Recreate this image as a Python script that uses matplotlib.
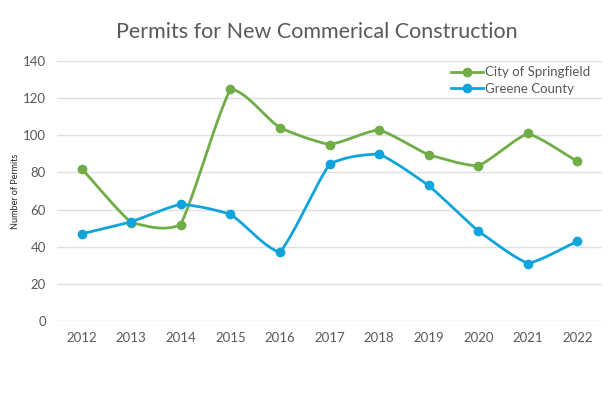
import matplotlib
matplotlib.use("Agg")
import matplotlib.pyplot as plt
import numpy as np

# data
years = [2012, 2013, 2014, 2015, 2016, 2017, 2018, 2019, 2020, 2021, 2022]
springfield = [82, 53, 52, 125, 104, 95, 103, 89.5, 83.5, 101, 86]
greene = [47, 53.5, 63, 57.5, 37, 84.5, 90, 73, 48.5, 31, 43]

green = "#70ad47"
blue = "#10a4dc"
text_col = "#595959"

plt.rcParams["font.family"] = ["Lato", "DejaVu Sans"]


def smooth(x, y, amount=0.35, n=30):
    # Catmull-Rom curve blended with the straight segments (drawing only)
    x = np.asarray(x, float)
    y = np.asarray(y, float)
    m = np.zeros_like(y)
    m[1:-1] = (y[2:] - y[:-2]) / (x[2:] - x[:-2])
    m[0] = (y[1] - y[0]) / (x[1] - x[0])
    m[-1] = (y[-1] - y[-2]) / (x[-1] - x[-2])
    xs, ys = [], []
    for i in range(len(x) - 1):
        h = x[i + 1] - x[i]
        t = np.linspace(0, 1, n)
        h00 = 2 * t**3 - 3 * t**2 + 1
        h10 = t**3 - 2 * t**2 + t
        h01 = -2 * t**3 + 3 * t**2
        h11 = t**3 - t**2
        cr = h00 * y[i] + h10 * h * m[i] + h01 * y[i + 1] + h11 * h * m[i + 1]
        lin = y[i] + t * (y[i + 1] - y[i])
        xs.append(x[i] + t * h)
        ys.append(lin + amount * (cr - lin))
    return np.concatenate(xs), np.concatenate(ys)


fig = plt.figure(figsize=(6.12, 3.96), dpi=100)
ax = fig.add_axes([0.093, 0.189, 0.891, 0.657])

for vals, col, name in [(springfield, green, "City of Springfield"),
                        (greene, blue, "Greene County")]:
    sx, sy = smooth(years, vals)
    ax.plot(sx, sy, color=col, lw=2, solid_capstyle="round")
    ax.plot(years, vals, "o", color=col, ms=6)
    ax.plot([], [], "-o", color=col, lw=2, ms=6, label=name)

ax.set_xlim(2011.5, 2022.5)
ax.set_ylim(0, 140)
ax.set_xticks(years)
ax.set_yticks(np.arange(0, 141, 20))
ax.tick_params(length=0, labelsize=9.5, colors=text_col, pad=8)
ax.grid(axis="y", color="#e0e0e0", lw=1)
ax.set_axisbelow(True)
for s in ax.spines.values():
    s.set_visible(False)

ax.set_ylabel("Number of Permits", fontsize=6.5, color="#222222", labelpad=2)
fig.suptitle("Permits for New Commerical Construction", x=0.518, y=0.945,
             fontsize=15.5, color=text_col)

ax.legend(loc="upper right", bbox_to_anchor=(1.0, 1.025), frameon=False,
          fontsize=9.5, labelcolor=text_col, handlelength=2.4,
          handletextpad=0.2, labelspacing=0.35)

fig.savefig("out.png", dpi=100)
